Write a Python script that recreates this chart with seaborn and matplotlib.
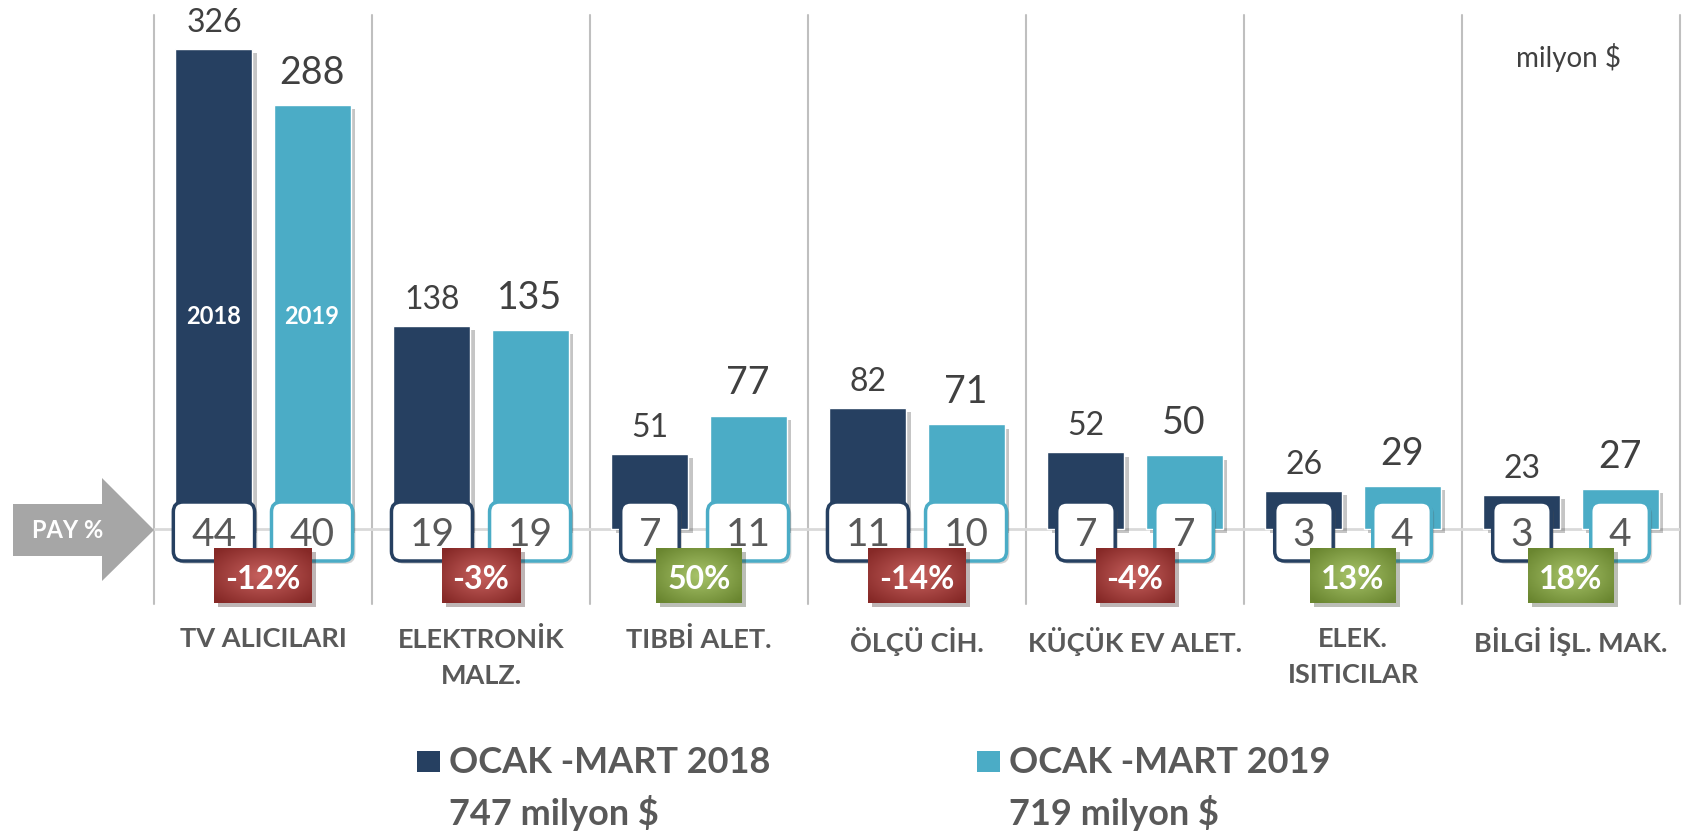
import numpy as np
import pandas as pd
import matplotlib
matplotlib.use("Agg")
import matplotlib.pyplot as plt
import seaborn as sns
from matplotlib.patches import FancyBboxPatch, Polygon, Rectangle
from matplotlib.colors import to_rgb
import matplotlib.patheffects as pe

# ---------------- data ----------------
categories = ["TV ALICILARI", "ELEKTRONİK\nMALZ.", "TIBBİ ALET.", "ÖLÇÜ CİH.",
              "KÜÇÜK EV ALET.", "ELEK.\nISITICILAR", "BİLGİ İŞL. MAK."]
values_2018 = [326, 138, 51, 82, 52, 26, 23]
values_2019 = [288, 135, 77, 71, 50, 29, 27]
share_2018 = [44, 19, 7, 11, 7, 3, 3]
share_2019 = [40, 19, 11, 10, 7, 4, 4]
change_pct = [-12, -3, 50, -14, -4, 13, 18]
series = ["OCAK -MART 2018", "OCAK -MART 2019"]
totals = ["747 milyon $", "719 milyon $"]
years = ["2018", "2019"]
unit_label = "milyon $"
share_label = "PAY %"

# ---------------- style ----------------
sns.set_theme(style="white")
plt.rcParams["font.family"] = ["Lato", "DejaVu Sans"]

W, H = 1684, 837
PXU = 1.472  # pixels per value unit
fig = plt.figure(figsize=(W / 100, H / 100), dpi=100)
ax = fig.add_axes([154 / W, 1 - 605 / H, 1526 / W, 589 / H])

C18, C19 = "#264061", "#4BACC6"
TXT = "#404040"
GRAY = "#595959"

df = pd.DataFrame({
    "cat": categories * 2,
    "val": values_2018 + values_2019,
    "series": [series[0]] * len(categories) + [series[1]] * len(categories),
})
sns.barplot(data=df, x="cat", y="val", hue="series", palette=[C18, C19],
            width=0.9, gap=0.215, saturation=1, ax=ax, legend=False, zorder=3)

ax.set_xlim(-0.5, 6.5)
ax.set_ylim(-(605 - 530) / PXU, (530 - 16) / PXU)
ax.set_axis_off()

shadow = [pe.SimplePatchShadow(offset=(3, -3), shadow_rgbFace="k", alpha=0.25), pe.Normal()]
for p in ax.patches:
    p.set_path_effects(shadow)

# separators and baseline
for k in range(len(categories) + 1):
    ax.axvline(k - 0.5, color="#BFBFBF", lw=1.5, zorder=1, clip_on=False)
ax.axhline(0, color="#D9D9D9", lw=2, zorder=2)

renderer = fig.canvas.get_renderer()
xpx = 218.0  # pixels per category

containers = ax.containers
vals = [values_2018, values_2019]
shares = [share_2018, share_2019]
edge_cols = [C18, C19]
label_sizes = [23, 27]
label_offsets = [13, 16]

for s, cont in enumerate(containers):
    for i, bar in enumerate(cont):
        xc = bar.get_x() + bar.get_width() / 2
        v = vals[s][i]
        ax.annotate(str(v), (xc, v), xytext=(0, label_offsets[s]), textcoords="offset points",
                    ha="center", va="baseline", fontsize=label_sizes[s], color=TXT, zorder=8)
        # share box
        t = ax.text(xc, -(546 - 530) / PXU, str(shares[s][i]), ha="center", va="baseline",
                    fontsize=28, color=GRAY, zorder=7)
        tw = t.get_window_extent(renderer).width
        bw = (tw + 36) / xpx
        y0 = -(562 - 530) / PXU
        bh = 59 / PXU
        box = FancyBboxPatch((xc - bw / 2, y0), bw, bh,
                             boxstyle="round,pad=0,rounding_size=0.045",
                             mutation_aspect=xpx / PXU, fc="white", ec=edge_cols[s],
                             lw=2.5, zorder=6, clip_on=False,
                             path_effects=[pe.SimplePatchShadow(offset=(2, -2), alpha=0.25), pe.Normal()])
        ax.add_patch(box)
        if i == 0:
            ax.text(xc, (530 - 317) / PXU, years[s], ha="center", va="center",
                    fontsize=17, weight="bold", color="white", zorder=5)

# change boxes with radial gradient
def grad_img(dark, light, n=60):
    yy, xx = np.mgrid[-1:1:n * 1j, -1:1:n * 1j]
    r = np.clip(np.sqrt(xx ** 2 + yy ** 2) / 1.3, 0, 1)[..., None]
    d, l = np.array(to_rgb(dark)), np.array(to_rgb(light))
    return l * (1 - r) + d * r

for i, c in enumerate(change_pct):
    label = f"{c}%"
    t = ax.text(i, -(589 - 530) / PXU, label, ha="center", va="baseline",
                fontsize=23, weight="bold", color="white", zorder=10)
    tw = t.get_window_extent(renderer).width
    bw = (tw + 22) / xpx
    y0, y1 = -(604 - 530) / PXU, -(549 - 530) / PXU
    if c < 0:
        dark, light = "#862927", "#C8625F"
    else:
        dark, light = "#6A8630", "#A8C46A"
    rect = Rectangle((i - bw / 2, y0), bw, y1 - y0, fc=dark, ec="none", zorder=8, clip_on=False,
                     path_effects=[pe.SimplePatchShadow(offset=(3, -3), alpha=0.3), pe.Normal()])
    ax.add_patch(rect)
    im = ax.imshow(grad_img(dark, light), extent=[i - bw / 2, i + bw / 2, y0, y1],
                   aspect="auto", zorder=9, interpolation="bilinear")
    im.set_clip_path(rect)

ax.set_xlim(-0.5, 6.5)
ax.set_ylim(-(605 - 530) / PXU, (530 - 16) / PXU)

# category labels
for i, cat in enumerate(categories):
    ax.text(i, -(627 - 530) / PXU, cat, ha="center", va="top", fontsize=19.5, weight="bold",
            color=GRAY, linespacing=1.6, clip_on=False)

# unit label
fig.text(1568 / W, 1 - 58 / H, unit_label, ha="center", va="center", fontsize=20, color=TXT)

# PAY % arrow
pts = [(13, 505), (102, 505), (102, 479), (154, 531), (102, 582), (102, 557), (13, 557)]
arrow = Polygon([(x / W, 1 - y / H) for x, y in pts], closed=True, transform=fig.transFigure,
                fc="#A6A6A6", ec="none")
fig.add_artist(arrow)
fig.text(68 / W, 1 - 531 / H, share_label, ha="center", va="center", fontsize=17,
         weight="bold", color="white")

# legend
leg_x = [417, 977]
for s in range(2):
    fig.add_artist(Rectangle((leg_x[s] / W, 1 - 773 / H), 23 / W, 21 / H,
                             transform=fig.transFigure, fc=edge_cols[s], ec="none"))
    fig.text((leg_x[s] + 32) / W, 1 - 763 / H, series[s], ha="left", va="center",
             fontsize=26, weight="bold", color=GRAY)
    fig.text((leg_x[s] + 32) / W, 1 - 813 / H, totals[s], ha="left", va="center",
             fontsize=26, weight="bold", color=GRAY)

fig.savefig("out.png", dpi=100, facecolor="white")
